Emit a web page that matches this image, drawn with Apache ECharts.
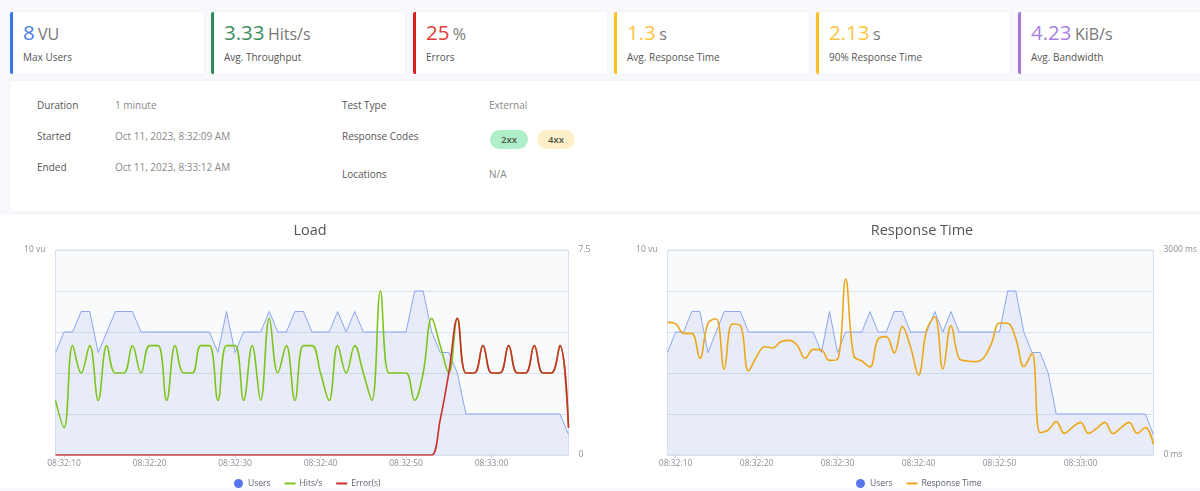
<!DOCTYPE html>
<html>
<head>
<meta charset="utf-8">
<title>Test results</title>
<script src="https://cdn.jsdelivr.net/npm/echarts@6/dist/echarts.min.js"></script>
<style>
  html, body { margin: 0; padding: 0; }
  body { width: 1200px; height: 491px; overflow: hidden; background: #f8f9fc; position: relative; font-family: "Open Sans", sans-serif; color: #555; }
  .card { position: absolute; top: 12px; height: 62px; box-sizing: border-box; background: #fff; border-left: 3px solid; border-radius: 2px; box-shadow: 0 0 3px rgba(60,80,120,.08); }
  .card .num { position: absolute; left: 10px; top: 6px; font-size: 20.5px; line-height: 28px; white-space: nowrap; }
  .card .num span { font-size: 16px; color: #777; margin-left: -2px; }
  .card .lbl { position: absolute; left: 10px; top: 37px; font-size: 10px; line-height: 16px; color: #555; white-space: nowrap; }
  .panel { position: absolute; left: 10px; top: 81px; width: 1200px; height: 130px; background: #fff; box-shadow: 0 0 3px rgba(60,80,120,.08); }
  .t { position: absolute; font-size: 10px; line-height: 14px; white-space: nowrap; }
  .k { color: #555; }
  .v { color: #8a8a8a; }
  .badge { position: absolute; top: 49px; width: 38px; height: 19px; border-radius: 10px; text-align: center; font-size: 9.5px; font-weight: 600; line-height: 20px; color: #4a5a4a; }
  .charts { position: absolute; left: 0; top: 215px; width: 1200px; height: 273px; background: #fff; }
  .chart { position: absolute; top: 0; height: 273px; }
</style>
</head>
<body>

<div class="card" style="left:10px;width:194px;border-color:#3b78e7"><div class="num" style="color:#4a7de0">8 <span>VU</span></div><div class="lbl">Max Users</div></div>
<div class="card" style="left:211px;width:194px;border-color:#2e8b57"><div class="num" style="color:#3a8f5f">3.33 <span>Hits/s</span></div><div class="lbl">Avg. Throughput</div></div>
<div class="card" style="left:413px;width:194px;border-color:#d61f1f"><div class="num" style="color:#e23b3b">25 <span>%</span></div><div class="lbl">Errors</div></div>
<div class="card" style="left:614px;width:195px;border-color:#fbbf24"><div class="num" style="color:#fcc43e">1.3 <span>s</span></div><div class="lbl">Avg. Response Time</div></div>
<div class="card" style="left:816px;width:194px;border-color:#fbbf24"><div class="num" style="color:#fcc43e">2.13 <span>s</span></div><div class="lbl">90% Response Time</div></div>
<div class="card" style="left:1018px;width:200px;border-color:#a878de"><div class="num" style="color:#ac80df">4.23 <span>KiB/s</span></div><div class="lbl">Avg. Bandwidth</div></div>

<div class="panel">
  <div class="t k" style="left:27px;top:17px">Duration</div>
  <div class="t v" style="left:105px;top:17px">1 minute</div>
  <div class="t k" style="left:27px;top:48px">Started</div>
  <div class="t v" style="left:105px;top:48px">Oct 11, 2023, 8:32:09 AM</div>
  <div class="t k" style="left:27px;top:79px">Ended</div>
  <div class="t v" style="left:105px;top:79px">Oct 11, 2023, 8:33:12 AM</div>
  <div class="t k" style="left:332px;top:17px">Test Type</div>
  <div class="t v" style="left:479px;top:17px">External</div>
  <div class="t k" style="left:332px;top:48px">Response Codes</div>
  <div class="badge" style="left:480px;background:#aeeec8">2xx</div>
  <div class="badge" style="left:527px;background:#fdf0c8">4xx</div>
  <div class="t k" style="left:332px;top:86px">Locations</div>
  <div class="t v" style="left:479px;top:86px">N/A</div>
</div>

<div class="charts">
  <div id="load" class="chart" style="left:0;width:612px"></div>
  <div id="resp" class="chart" style="left:612px;width:588px"></div>
</div>

<script>
// one sample per second, 08:32:09 to 08:33:09
const times = []
for (let s = 9; s <= 69; s++) {
  const m = s >= 60 ? 33 : 32
  const ss = s >= 60 ? s - 60 : s
  times.push(`08:${m}:${String(ss).padStart(2, '0')}`)
}

const users = [5, 6, 6, 7, 7, 5, 6, 7, 7, 7, 6, 6, 6, 6, 6, 6, 6, 6, 6, 5, 7, 5, 6, 6, 6, 7, 6, 6, 7, 7, 6,
  6, 6, 7, 6, 7, 6, 6, 6, 6, 6, 6, 8, 8, 6, 5, 5, 4, 2, 2, 2, 2, 2, 2, 2, 2, 2, 2, 2, 2, 1]

const hits = [2, 1, 4, 3, 4, 2, 4, 3, 3, 4, 3, 4, 4, 2, 4, 3, 3, 4, 4, 2, 4, 4, 2, 4, 2, 5, 3, 4, 2, 4, 4,
  3, 2, 4, 3, 4, 3, 2, 6, 3, 3, 3, 2, 3, 5, 4, 3, 5, 3, 3, 4, 3, 3, 4, 3, 3, 4, 3, 3, 4, 1]

const errors = [
  0, 0, 0, 0, 0, 0, 0, 0, 0, 0,
  0, 0, 0, 0, 0, 0, 0, 0, 0, 0,
  0, 0, 0, 0, 0, 0, 0, 0, 0, 0,
  0, 0, 0, 0, 0, 0, 0, 0, 0, 0,
  0, 0, 0, 0, 0, 1.3, 3, 5, 3, 3,
  4, 3, 3, 4, 3, 3, 4, 3, 3, 4,
  1
]

const responseTime = [1941, 1922, 1780, 1780, 1415, 1927, 1995, 1254, 1917, 1893, 1229, 1440, 1585, 1566, 1658, 1678,
  1610, 1415, 1546, 1537, 1385, 1400, 2576, 1449, 1376, 1288, 1698, 1732, 1493, 1878, 1585, 1171, 1830, 2024, 1258,
  1893, 1415, 1376, 1366, 1415, 1634, 1932, 1927, 1707, 1293, 1488, 327, 366, 488, 317, 405, 478, 317, 390, 478, 312,
  400, 478, 317, 400, 156]

const gray = '#8a8f98'
// legend dash for the line series, so no marker shows
const lineIcon = 'path://M0 0H11V2H0Z'

function baseOption(title, gridWidth, rightFormatter, rightMax, legendData, legendLeft) {
  return {
    animation: false,
    textStyle: { fontFamily: '"Open Sans", sans-serif' },
    title: {
      text: title,
      left: 305,
      textAlign: 'center',
      top: 3,
      textStyle: { color: '#555', fontSize: 14.5, fontWeight: 'normal' }
    },
    legend: {
      left: legendLeft,
      top: 259,
      itemWidth: 11,
      itemHeight: 9,
      itemGap: 14,
      data: legendData,
      textStyle: { color: '#5c6370', fontSize: 8.5, padding: [0, 0, 0, -1] }
    },
    grid: {
      left: 55.5,
      width: gridWidth,
      top: 35,
      height: 205,
      show: true,
      backgroundColor: '#f8fafc',
      borderColor: '#d9e3ef',
      borderWidth: 1
    },
    xAxis: {
      type: 'category',
      data: times,
      boundaryGap: false,
      axisLine: { show: false },
      axisTick: { length: 3, lineStyle: { color: '#cdd6e2' }, interval: i => (i + 9) % 10 === 0 },
      axisLabel: {
        color: gray,
        fontSize: 8.5,
        margin: 4,
        interval: i => (i + 9) % 10 === 0
      },
      splitLine: { show: false }
    },
    yAxis: [
      {
        type: 'value',
        min: 0,
        max: 10,
        interval: 2,
        axisLine: { show: false },
        axisTick: { show: false },
        axisLabel: {
          color: gray,
          fontSize: 8.5,
          margin: 10,
          formatter: v => (v === 10 ? '10 vu' : '')
        },
        splitLine: { lineStyle: { color: '#d9e3ef', width: 1.2 } }
      },
      {
        type: 'value',
        min: 0,
        max: rightMax,
        interval: rightMax,
        axisLine: { show: false },
        axisTick: { show: false },
        axisLabel: { color: gray, fontSize: 8.5, margin: 10, formatter: rightFormatter },
        splitLine: { show: false }
      }
    ]
  }
}

function usersSeries() {
  return {
    name: 'Users',
    type: 'line',
    data: users,
    yAxisIndex: 0,
    symbol: 'none',
    lineStyle: { color: '#8ea5ef', width: 1 },
    itemStyle: { color: '#5a74ec' },
    areaStyle: { color: 'rgba(112, 140, 225, 0.18)' },
    z: 1
  }
}

function curve(name, data, color) {
  return {
    name,
    type: 'line',
    data,
    yAxisIndex: 1,
    smooth: 0.4,
    symbol: 'none',
    lineStyle: { color, width: 1.6 },
    itemStyle: { color },
    z: 3
  }
}

const loadChart = echarts.init(document.getElementById('load'))
loadChart.setOption({
  ...baseOption('Load', 513, v => String(v), 7.5, [
    { name: 'Users', icon: 'circle' },
    { name: 'Hits/s', icon: lineIcon },
    { name: 'Error(s)', icon: lineIcon }
  ], 229),
  series: [
    usersSeries(),
    curve('Hits/s', hits, '#7fc41d'),
    curve('Error(s)', errors, '#c9302c')
  ]
})

const respChart = echarts.init(document.getElementById('resp'))
respChart.setOption({
  ...baseOption('Response Time', 490.5, v => v + ' ms', 3000, [
    { name: 'Users', icon: 'circle' },
    { name: 'Response Time', icon: lineIcon }
  ], 239),
  series: [
    usersSeries(),
    curve('Response Time', responseTime, '#eca71b')
  ]
})
</script>
</body>
</html>
